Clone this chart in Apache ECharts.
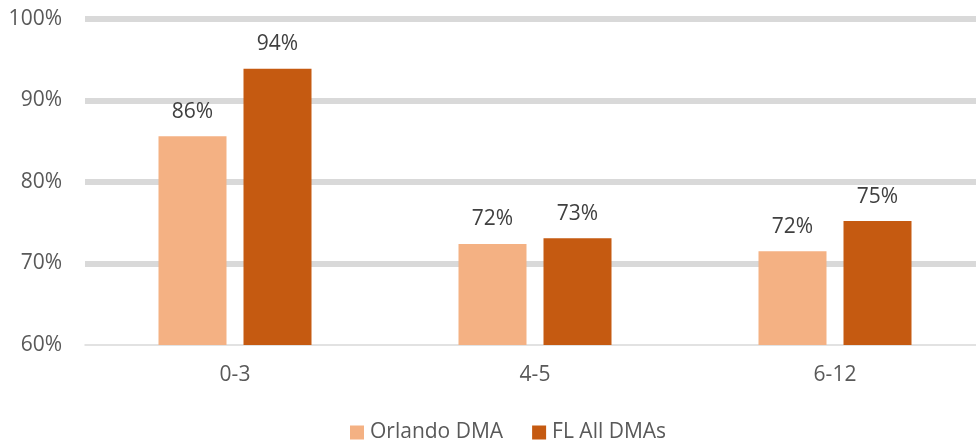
<!DOCTYPE html>
<html>
<head>
<meta charset="utf-8">
<script src="https://cdn.jsdelivr.net/npm/echarts@6/dist/echarts.min.js"></script>
<style>
  html, body { margin: 0; padding: 0; background: #ffffff; }
  #chart { width: 976px; height: 443px; }
</style>
</head>
<body>
<div id="chart"></div>
<script>
// Age groups on the category axis
const categories = ['0-3', '4-5', '6-12'];
// Share (%) for each market, one value per age group
const orlandoDMA = [85.6, 72.4, 71.5];
const flAllDMAs = [93.9, 73.1, 75.2];
// Value axis range and tick step (%)
const yMin = 60;
const yMax = 100;
const yStep = 10;

const FONT = '"Open Sans", "Liberation Sans", sans-serif';

const chart = echarts.init(document.getElementById('chart'), null, { renderer: 'canvas' });

const labelStyle = {
  show: true,
  position: 'top',
  distance: 14,
  color: '#404040',
  fontFamily: FONT,
  fontSize: 21,
  formatter: p => Math.round(p.value) + '%'
};

chart.setOption({
  animation: false,
  backgroundColor: '#ffffff',
  // plot area runs a little past the right edge of the canvas
  grid: {
    left: 85, width: 900, top: 19, bottom: 98,
    containLabel: false,
    outerBoundsMode: 'none'
  },
  legend: {
    left: 345,
    top: 417,
    itemWidth: 14,
    itemHeight: 14,
    itemGap: 29,
    icon: 'rect',
    textStyle: { color: '#595959', fontFamily: FONT, fontSize: 21, padding: [0, 0, 0, 1] },
    data: ['Orlando DMA', 'FL All DMAs']
  },
  xAxis: {
    type: 'category',
    data: categories,
    axisLine: { show: true, lineStyle: { color: '#d9d9d9', width: 1.5 } },
    axisTick: { show: false },
    axisLabel: { color: '#595959', fontFamily: FONT, fontSize: 21, margin: 20 }
  },
  yAxis: {
    type: 'value',
    min: yMin,
    max: yMax,
    interval: yStep,
    axisLine: { show: false },
    axisTick: { show: false },
    axisLabel: {
      color: '#595959',
      fontFamily: FONT,
      fontSize: 21,
      margin: 23,
      formatter: v => v + '%'
    },
    splitLine: {
      show: true,
      showMinLine: false,
      lineStyle: { color: '#d9d9d9', width: 6 }
    }
  },
  series: [
    {
      name: 'Orlando DMA',
      type: 'bar',
      data: orlandoDMA,
      itemStyle: { color: '#F4B183' },
      barGap: '25%',
      barCategoryGap: '49%',
      label: labelStyle
    },
    {
      name: 'FL All DMAs',
      type: 'bar',
      data: flAllDMAs,
      itemStyle: { color: '#C55A11' },
      barGap: '25%',
      barCategoryGap: '49%',
      label: labelStyle
    }
  ]
});
</script>
</body>
</html>
